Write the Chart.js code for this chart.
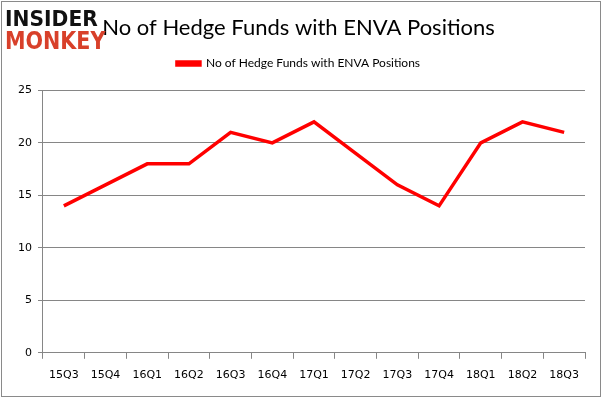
<!DOCTYPE html>
<html>
<head>
<meta charset="utf-8">
<script src="https://cdn.jsdelivr.net/npm/chart.js@4.4.0/dist/chart.umd.min.js"></script>
<style>
  html, body { margin: 0; padding: 0; background: #fff; }
  #wrap { position: relative; width: 602px; height: 398px; }
  #frame { position: absolute; left: 1px; top: 1px; width: 598px; height: 394px; border: 1px solid #8a8a8a; pointer-events: none; }
  .logo { position: absolute; left: 5px; font-family: "DejaVu Sans"; font-weight: bold; transform-origin: left top; line-height: 1; }
  #l1 { top: 8px; color: #111; font-size: 22px; transform: scaleX(0.92); }
  #l2 { top: 29px; color: #d8402a; font-size: 24px; transform: scaleX(0.86); }
</style>
</head>
<body>
<div id="wrap">
  <canvas id="chartContainer" width="602" height="398"></canvas>
  <div class="logo" id="l1">INSIDER</div>
  <div class="logo" id="l2">MONKEY</div>
  <div id="frame"></div>
</div>
<script>
const quarters = ['15Q3', '15Q4', '16Q1', '16Q2', '16Q3', '16Q4', '17Q1', '17Q2', '17Q3', '17Q4', '18Q1', '18Q2', '18Q3'];
const fundCounts = [14, 16, 18, 18, 21, 20, 22, 19, 16, 14, 20, 22, 21];
const seriesName = 'No of Hedge Funds with ENVA Positions';
const titleText = 'No of Hedge Funds with ENVA Positions';

// extra room under the legend, like the original
const legendGap = {
    id: 'legendGap',
    beforeInit(chart) {
        const fit = chart.legend.fit;
        chart.legend.fit = function () {
            fit.bind(chart.legend)();
            this.height += 11;
        };
    }
};

const ctx = document.getElementById('chartContainer').getContext('2d');

new Chart(ctx, {
    type: 'line',
    data: {
        labels: quarters,
        datasets: [{
            label: seriesName,
            data: fundCounts,
            borderColor: '#ff0000',
            backgroundColor: '#ff0000',
            borderWidth: 3.5,
            pointRadius: 0,
            tension: 0
        }]
    },
    options: {
        responsive: false,
        animation: false,
        layout: { padding: { left: 12, right: 17, top: 2, bottom: 6 } },
        plugins: {
            title: {
                display: true,
                text: titleText,
                color: '#000',
                font: { family: 'Lato', size: 22, weight: 'normal' },
                padding: { top: 13, bottom: 8 }
            },
            legend: {
                labels: {
                    boxWidth: 23,
                    boxHeight: 3,
                    color: '#000',
                    padding: 8,
                    font: { family: 'Lato', size: 12 }
                }
            },
            tooltip: { enabled: false }
        },
        scales: {
            x: {
                offset: true,
                grid: { drawOnChartArea: false, drawTicks: true, tickLength: 6, color: '#868686', offset: true },
                border: { color: '#868686' },
                ticks: { color: '#000', padding: 10, font: { family: 'DejaVu Sans', size: 11 }, maxRotation: 0 }
            },
            y: {
                min: 0,
                max: 25,
                ticks: { stepSize: 5, color: '#000', padding: 6, font: { family: 'DejaVu Sans', size: 11 } },
                grid: { color: '#868686', tickLength: 5 },
                border: { color: '#868686' }
            }
        }
    },
    plugins: [legendGap]
});
</script>
</body>
</html>
